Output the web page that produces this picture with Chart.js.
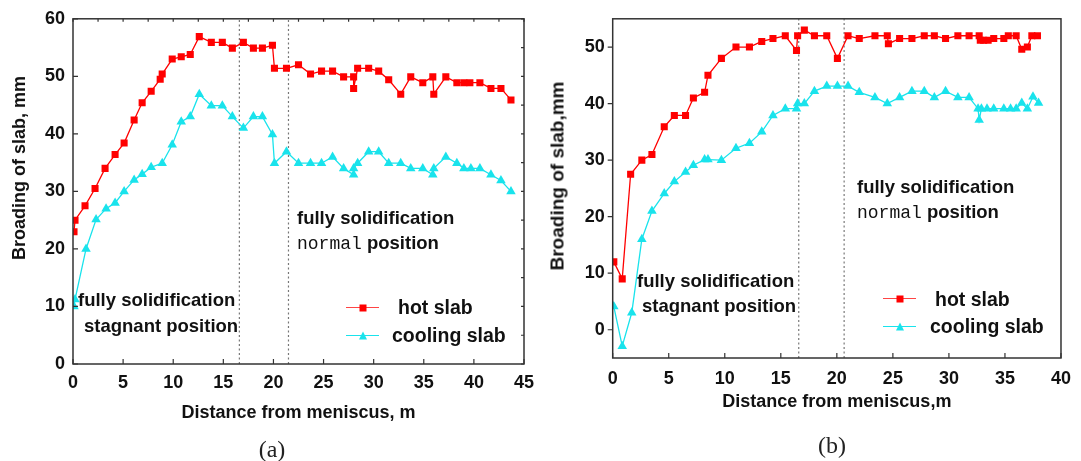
<!DOCTYPE html>
<html>
<head>
<meta charset="utf-8">
<script src="https://cdn.jsdelivr.net/npm/chart.js@4.4.1/dist/chart.umd.min.js"></script>
<style>
  body { margin: 0; background: #fff; width: 1081px; height: 461px; overflow: hidden; position: relative; font-family: 'Liberation Sans', Arial, sans-serif; }
  .box { position: absolute; top: 0; height: 461px; }
  .t { position: absolute; font-weight: bold; white-space: nowrap; color: #111; line-height: 1; transform: translateY(-50%); font-size: 18.5px; }
  .mono { font-family: 'Liberation Mono', 'Courier New', monospace; font-weight: normal; font-size: 18px; }
  .leg { font-size: 19.5px; }
  .ytitle { position: absolute; font-weight: bold; font-size: 18px; white-space: nowrap; color: #111; line-height: 1; transform: translate(-50%, -50%) rotate(-90deg); }
  .cap { position: absolute; font-family: 'Liberation Serif', 'Times New Roman', serif; font-size: 24px; color: #222; line-height: 1; transform: translate(-50%, -50%); }
  .sample { position: absolute; height: 1.3px; width: 33px; }
  .sample i { position: absolute; left: 50%; top: 50%; }
  .sq { width: 7px; height: 7px; background: #f00; transform: translate(-50%, -50%); }
  .tri { width: 0; height: 0; border-left: 4.5px solid transparent; border-right: 4.5px solid transparent; border-bottom: 8px solid #19e3ec; transform: translate(-50%, -55%); }
</style>
</head>
<body>
<div class="box" style="left:0;width:545px"><canvas id="chartA"></canvas></div>
<div class="box" style="left:545px;width:536px"><canvas id="chartB"></canvas></div>

<div class="ytitle" style="left:18.5px;top:168px">Broading of slab, mm</div>
<div class="t" style="left:78px;top:300px">fully solidification</div>
<div class="t" style="left:84px;top:326px">stagnant position</div>
<div class="t" style="left:297px;top:218px">fully solidification</div>
<div class="t" style="left:297px;top:243px"><span class="mono">normal</span> position</div>
<div class="sample" style="left:346px;top:307px;background:#f44"><i class="sq"></i></div>
<div class="t leg" style="left:398px;top:308px">hot slab</div>
<div class="sample" style="left:346px;top:335px;background:#19e3ec"><i class="tri"></i></div>
<div class="t leg" style="left:392px;top:336px">cooling slab</div>
<div class="cap" style="left:272px;top:449px">(a)</div>

<div class="ytitle" style="left:557px;top:176px;font-size:19px">Broading of slab,mm</div>
<div class="t" style="left:637px;top:281px">fully solidification</div>
<div class="t" style="left:642px;top:306px">stagnant position</div>
<div class="t" style="left:857px;top:187px">fully solidification</div>
<div class="t" style="left:857px;top:212px"><span class="mono">normal</span> position</div>
<div class="sample" style="left:883px;top:298px;background:#f44"><i class="sq"></i></div>
<div class="t leg" style="left:935px;top:300px">hot slab</div>
<div class="sample" style="left:883px;top:326px;background:#19e3ec"><i class="tri"></i></div>
<div class="t leg" style="left:930px;top:327px">cooling slab</div>
<div class="cap" style="left:832px;top:445px">(b)</div>

<script>
// ---- panel (a) data ----
const aHotX = [0.1, 0.2, 1.2, 2.2, 3.2, 4.2, 5.1, 6.1, 6.9, 7.8, 8.7, 8.9, 9.9, 10.8, 11.7, 12.6, 13.8, 14.9, 15.9, 17.0, 18.0, 18.9, 19.9, 20.1, 21.3, 22.5, 23.7, 24.8, 25.9, 27.0, 28.0, 28.0, 28.4, 29.5, 30.5, 31.5, 32.7, 33.7, 34.9, 35.9, 36.0, 37.2, 38.3, 39.0, 39.6, 40.6, 41.7, 42.7, 43.7];
const aHotY = [23, 25, 27.5, 30.5, 34, 36.4, 38.4, 42.4, 45.4, 47.4, 49.5, 50.4, 53, 53.4, 53.8, 56.9, 55.9, 55.9, 54.9, 55.9, 54.9, 54.9, 55.4, 51.4, 51.4, 52, 50.4, 50.9, 50.9, 49.9, 49.9, 47.9, 51.4, 51.4, 50.9, 49.4, 46.9, 49.9, 48.9, 49.9, 46.9, 49.9, 48.9, 48.9, 48.9, 48.9, 47.9, 47.9, 45.9];
const aCoolX = [0.1, 0.2, 1.3, 2.3, 3.3, 4.2, 5.1, 6.1, 6.9, 7.8, 8.9, 9.9, 10.8, 11.7, 12.6, 13.8, 14.9, 15.9, 17.0, 18.0, 18.9, 19.9, 20.1, 21.3, 22.5, 23.7, 24.8, 25.9, 27.0, 28.0, 28.0, 28.4, 29.5, 30.5, 31.5, 32.7, 33.7, 34.9, 35.9, 36.0, 37.2, 38.3, 39.0, 39.7, 40.6, 41.7, 42.7, 43.7];
const aCoolY = [10, 11.2, 20, 25.1, 27, 28, 30, 32, 33, 34.2, 34.9, 38.1, 42.1, 43, 46.9, 44.9, 44.9, 43, 41, 43, 43, 39.9, 34.9, 36.9, 34.9, 34.9, 34.9, 36, 34, 32.9, 34, 34.9, 36.9, 36.9, 34.9, 34.9, 34, 34, 32.9, 34, 36, 34.9, 34, 34, 34, 32.9, 31.9, 30];
const aMarkX = [16.6, 21.5];
const aTicksX = [0, 5, 10, 15, 20, 25, 30, 35, 40, 45];
const aTicksY = [0, 10, 20, 30, 40, 50, 60];

// ---- panel (b) data ----
const bHotX = [0.1, 0.85, 1.6, 2.6, 3.5, 4.6, 5.5, 6.5, 7.2, 8.2, 8.5, 9.7, 11.0, 12.2, 13.3, 14.3, 15.4, 16.4, 16.5, 17.1, 18.0, 19.1, 20.05, 21.0, 22.0, 23.4, 24.5, 24.6, 25.6, 26.7, 27.8, 28.7, 29.7, 30.8, 31.8, 32.7, 32.8, 33.1, 33.5, 34.0, 34.9, 35.3, 36.0, 36.5, 37.0, 37.4, 37.9];
const bHotY = [12, 9, 27.5, 30, 31, 35.9, 37.9, 37.9, 41, 42, 45, 48, 50, 50, 51, 51.5, 52, 49.4, 52, 53, 52, 52, 48, 52, 51.5, 52, 52, 50.6, 51.5, 51.5, 52, 52, 51.5, 52, 52, 52, 51.2, 51.2, 51.2, 51.5, 51.5, 52, 52, 49.6, 50, 52, 52];
const bCoolX = [0.1, 0.85, 1.7, 2.6, 3.5, 4.6, 5.5, 6.5, 7.2, 8.2, 8.5, 9.7, 11.0, 12.2, 13.3, 14.3, 15.4, 16.4, 16.5, 17.1, 18.0, 19.1, 20.05, 21.0, 22.0, 23.4, 24.5, 25.6, 26.7, 27.8, 28.7, 29.7, 30.8, 31.8, 32.6, 32.7, 32.9, 33.4, 34.0, 34.9, 35.5, 36.0, 36.5, 37.0, 37.5, 38.0];
const bCoolY = [4.1, -2.9, 3, 16, 21, 24.1, 26.2, 27.9, 29.1, 30.1, 30.1, 30, 32.1, 33, 35, 37.9, 39.1, 39.1, 40, 40, 42.2, 43.1, 43.1, 43.1, 42, 41.1, 40, 41.1, 42.2, 42.2, 41.1, 42.2, 41.1, 41.1, 39.1, 37.1, 39.1, 39.1, 39.1, 39.1, 39.1, 39.1, 40.1, 39.1, 41.2, 40.1];
const bMarkX = [16.6, 20.65];
const bTicksX = [0, 5, 10, 15, 20, 25, 30, 35, 40];
const bTicksY = [0, 10, 20, 30, 40, 50];

const RED = '#ff0000';
const CYAN = '#19e3ec';
const pts = (xs, ys) => xs.map((x, i) => ({ x, y: ys[i] }));

// frame + inward ticks (Origin style)
const frameTicks = {
    id: 'frameTicks',
    afterDatasetsDraw(chart, args, opts) {
        const { ctx, chartArea: a, scales: { x, y } } = chart;
        ctx.save();
        ctx.strokeStyle = '#333';
        ctx.lineWidth = 1.5;
        ctx.strokeRect(a.left, a.top, a.right - a.left, a.bottom - a.top);
        ctx.lineWidth = 1.2;
        ctx.beginPath();
        x.ticks.forEach(t => {
            const px = x.getPixelForValue(t.value);
            ctx.moveTo(px, a.bottom); ctx.lineTo(px, a.bottom - 5);
        });
        y.ticks.forEach(t => {
            const py = y.getPixelForValue(t.value);
            const d = opts.yOut ? -5 : 5;
            ctx.moveTo(a.left, py); ctx.lineTo(a.left + d, py);
        });
        if (opts.minor) {
            const xs = x.ticks.map(t => t.value), ys = y.ticks.map(t => t.value);
            const xm = xs.concat(xs.slice(1).map((v, i) => (v + xs[i]) / 2));
            const ym = ys.concat(ys.slice(1).map((v, i) => (v + ys[i]) / 2));
            xm.forEach(v => { const px = x.getPixelForValue(v); ctx.moveTo(px, a.top); ctx.lineTo(px, a.top + 3); });
            ym.forEach(v => { const py = y.getPixelForValue(v); ctx.moveTo(a.right, py); ctx.lineTo(a.right - 3, py); });
        }
        ctx.stroke();
        ctx.restore();
    }
};

function makeChart(id, cfg) {
    const ctx = document.getElementById(id).getContext('2d');
    const vlines = cfg.markX.map(v => ({
        data: [{ x: v, y: cfg.yMin }, { x: v, y: cfg.yMax }],
        borderColor: '#777', borderWidth: 1.2, borderDash: [2, 2.5], pointRadius: 0, order: 5
    }));
    return new Chart(ctx, {
        type: 'line',
        data: {
            datasets: [
                { label: 'hot slab', data: pts(cfg.hotX, cfg.hotY), borderColor: RED, backgroundColor: RED, borderWidth: 1.3,
                  pointStyle: 'rect', pointRadius: 5, pointBorderWidth: 0, tension: 0, order: 1 },
                { label: 'cooling slab', data: pts(cfg.coolX, cfg.coolY), borderColor: CYAN, backgroundColor: CYAN, borderWidth: 1.3,
                  pointStyle: 'triangle', pointRadius: 5.5, pointBorderWidth: 0, tension: 0, order: 2 },
                ...vlines
            ]
        },
        options: {
            responsive: true,
            maintainAspectRatio: false,
            animation: false,
            events: [],
            layout: { padding: { left: 0, top: cfg.padTop, right: cfg.padRight, bottom: 0 } },
            plugins: { legend: { display: false }, tooltip: { enabled: false }, frameTicks: { yOut: cfg.yOut, minor: cfg.minor } },
            scales: {
                x: {
                    type: 'linear', min: cfg.xMin, max: cfg.xMax,
                    afterBuildTicks: s => { s.ticks = cfg.ticksX.map(v => ({ value: v })); },
                    afterFit: s => { s.height = cfg.xHeight; },
                    grid: { display: false, drawTicks: false },
                    border: { display: false },
                    ticks: { color: '#111', padding: cfg.xPad, maxRotation: 0, font: { family: 'Liberation Sans', size: 18, weight: 'bold' } },
                    title: { display: true, text: cfg.xTitle, color: '#111', padding: { top: 0, bottom: cfg.xTitlePad },
                             font: { family: 'Liberation Sans', size: 18, weight: 'bold' } }
                },
                y: {
                    type: 'linear', min: cfg.yMin, max: cfg.yMax,
                    afterBuildTicks: s => { s.ticks = cfg.ticksY.map(v => ({ value: v })); },
                    afterFit: s => { s.width = cfg.yWidth; },
                    grid: { display: false, drawTicks: false },
                    border: { display: false },
                    ticks: { color: '#111', padding: 8, font: { family: 'Liberation Sans', size: 18, weight: 'bold' } }
                }
            }
        },
        plugins: [frameTicks]
    });
}

makeChart('chartA', {
    hotX: aHotX, hotY: aHotY, coolX: aCoolX, coolY: aCoolY, markX: aMarkX,
    ticksX: aTicksX, ticksY: aTicksY, xMin: 0, xMax: 45, yMin: 0, yMax: 60,
    padTop: 17, padRight: 21, xHeight: 97, yWidth: 73, xPad: 8, xTitlePad: 37,
    xTitle: 'Distance from meniscus, m', yOut: false, minor: true
});

makeChart('chartB', {
    hotX: bHotX, hotY: bHotY, coolX: bCoolX, coolY: bCoolY, markX: bMarkX,
    ticksX: bTicksX, ticksY: bTicksY, xMin: 0, xMax: 40, yMin: -5, yMax: 55,
    padTop: 18, padRight: 15.3, xHeight: 103, yWidth: 67.7, xPad: 10, xTitlePad: 48,
    xTitle: 'Distance from meniscus,m', yOut: true, minor: false
});
</script>
</body>
</html>
